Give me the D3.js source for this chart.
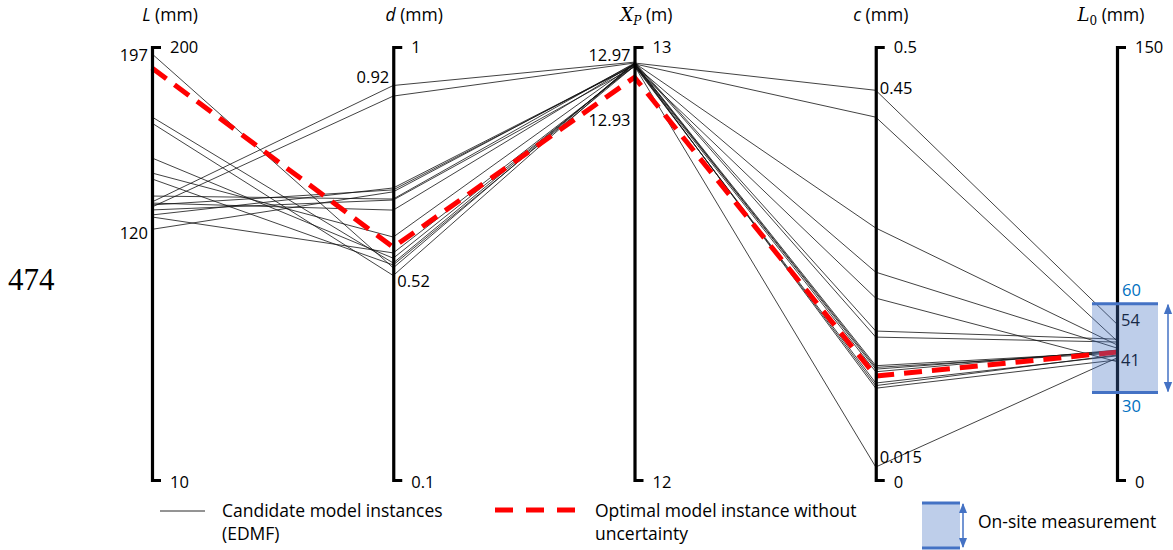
<!DOCTYPE html>
<html><head><meta charset="utf-8">
<script src="https://cdn.jsdelivr.net/npm/d3@7"></script>
<style>
body{margin:0;background:#fff}
text{font-family:"Open Sans","Noto Sans",sans-serif;fill:#000}
</style>
</head><body>
<svg id="chart" width="1173" height="550"></svg>
<script>
// ---------- DATA ----------
const dims = ["L", "d", "Xp", "c", "L0"];
const domainMin = [10, 0.1, 12, 0, 0];
const domainMax = [200, 1, 13, 0.5, 150];
const topTickLabels = ["200", "1", "13", "0.5", "150"];
const bottomTickLabels = ["10", "0.1", "12", "0", "0"];

// candidate model instances (EDMF)
const candL  = [197, 169.3, 166.6, 151.3, 144.7, 142.1, 134.6, 132, 131.5, 129.8, 126.3, 125.4, 120, 130.7, 128.5];
const candD  = [0.541, 0.551, 0.525, 0.561, 0.605, 0.547, 0.684, 0.92, 0.661, 0.898, 0.707, 0.572, 0.699, 0.703, 0.682];
const candXp = [12.963, 12.961, 12.963, 12.958, 12.961, 12.956, 12.963, 12.965, 12.961, 12.963, 12.958, 12.956, 12.961, 12.958, 12.954];
const candC  = [0.132, 0.419, 0.291, 0.125, 0.130, 0.112, 0.45, 0.172, 0.128, 0.165, 0.109, 0.015, 0.106, 0.240, 0.210];
const candL0 = [44.3, 48.2, 46.8, 45, 44, 43, 54, 48.8, 44.7, 47.8, 43.3, 42.3, 41.6, 45.7, 41];

// optimal model instance without uncertainty
const optimal = [190.8, 0.584, 12.93, 0.12, 44.3];

// on-site measurement range on L0
const measurement = [30, 60];

// min / max annotations
const annotAxis  = ["L", "L", "d", "d", "Xp", "Xp", "c", "c", "L0", "L0"];
const annotValue = [197, 120, 0.92, 0.52, 12.97, 12.93, 0.45, 0.015, 54, 41];
const annotText  = ["197", "120", "0.92", "0.52", "12.97", "12.93", "0.45", "0.015", "54", "41"];

// legend
const legendLabels = [["Candidate model instances", "(EDMF)"], ["Optimal model instance without", "uncertainty"], ["On-site measurement"]];

// ---------- LAYOUT ----------
const svg = d3.select("#chart");
const TOP = 47, BOTTOM = 480;
const FS = "16.5px";
const x = d3.scalePoint().domain(dims).range([152, 1117]);
const y = {};
dims.forEach((k, i) => {
  y[k] = d3.scaleLinear().domain([domainMin[i], domainMax[i]]).range([BOTTOM, TOP]);
});

const line = d3.line().x(d => x(d[0])).y(d => y[d[0]](d[1]));
const candidates = candL.map((_, i) => [candL[i], candD[i], candXp[i], candC[i], candL0[i]]);

// candidate lines
svg.append("g").selectAll("path").data(candidates).join("path")
  .attr("d", r => line(dims.map((k, j) => [k, r[j]])))
  .attr("fill", "none").attr("stroke", "#111").attr("stroke-width", 0.8);

// optimal line
svg.append("path")
  .attr("d", line(dims.map((k, j) => [k, optimal[j]])))
  .attr("fill", "none").attr("stroke", "#ff0000").attr("stroke-width", 5)
  .attr("stroke-dasharray", "18,10");

// axes
dims.forEach((k, i) => {
  const g = svg.append("g").attr("transform", `translate(${x(k)},0)`);
  const ax = d3.axisRight(y[k]).tickValues([domainMin[i], domainMax[i]])
    .tickSizeInner(0).tickSizeOuter(9).tickPadding(18)
    .tickFormat(v => v === domainMax[i] ? topTickLabels[i] : bottomTickLabels[i]);
  g.call(ax);
  g.select(".domain").attr("stroke", "#000").attr("stroke-width", 3.2).attr("stroke-linejoin", "miter");
  g.selectAll(".tick text").style("font-size", FS).attr("fill", "#000")
    .style("font-family", '"Open Sans","Noto Sans",sans-serif')
    .attr("dy", v => v === domainMax[i] ? "0.35em" : "0.47em");
});

// axis titles
const titleDx = [18, 21, 12, 5, -6];
const titles = svg.append("g");
dims.forEach((k, i) => {
  const t = titles.append("text").attr("x", x(k) + titleDx[i]).attr("y", 21)
    .attr("text-anchor", "middle").style("font-size", "17.5px");
  if (k === "L") { t.append("tspan").style("font-style", "italic").text("L"); t.append("tspan").text(" (mm)"); }
  if (k === "d") { t.append("tspan").style("font-style", "italic").text("d"); t.append("tspan").text(" (mm)"); }
  if (k === "c") { t.append("tspan").style("font-style", "italic").text("c"); t.append("tspan").text(" (mm)"); }
  if (k === "Xp") {
    t.append("tspan").style("font-style", "italic").style("font-family", '"DejaVu Serif",serif').style("font-size", "18px").text("X");
    t.append("tspan").style("font-style", "italic").style("font-family", '"DejaVu Serif",serif').style("font-size", "12px").attr("dy", 4).text("P");
    t.append("tspan").attr("dy", -4).text(" (m)");
  }
  if (k === "L0") {
    t.append("tspan").style("font-style", "italic").style("font-family", '"DejaVu Serif",serif').style("font-size", "18px").text("L");
    t.append("tspan").style("font-family", '"DejaVu Serif",serif').style("font-size", "12px").attr("dy", 4).text("0");
    t.append("tspan").attr("dy", -4).text(" (mm)");
  }
});

// annotations (side, vertical offset)
const annotSide = ["left", "left", "left", "right", "left", "left", "right", "right", "right", "right"];
const annotDy   = [1, 4, -8, 3, -5, 43, -2, -10, -4, -1];
svg.append("g").selectAll("text").data(annotText).join("text")
  .attr("x", (d, i) => x(annotAxis[i]) + (annotSide[i] === "left" ? -4 : 4))
  .attr("y", (d, i) => y[annotAxis[i]](annotValue[i]) + annotDy[i])
  .attr("dy", "0.35em")
  .attr("text-anchor", (d, i) => annotSide[i] === "left" ? "end" : "start")
  .style("font-size", FS).text(d => d);

// measurement box on L0
const blue = "#4472C4";
const mTop = y.L0(measurement[1]) - 3, mBot = y.L0(measurement[0]) - 1;
const bx0 = x("L0") - 25, bx1 = x("L0") + 41;
svg.append("rect").attr("x", bx0).attr("y", mTop).attr("width", bx1 - bx0).attr("height", mBot - mTop)
  .attr("fill", blue).attr("fill-opacity", 0.35);
[mTop, mBot].forEach(yy => svg.append("line").attr("x1", bx0).attr("x2", bx1).attr("y1", yy).attr("y2", yy)
  .attr("stroke", blue).attr("stroke-width", 3));
const defs = svg.append("defs");
defs.append("marker").attr("id", "ah").attr("viewBox", "0 0 10 10").attr("refX", 9).attr("refY", 5)
  .attr("markerWidth", 7).attr("markerHeight", 7).attr("orient", "auto-start-reverse")
  .append("path").attr("d", "M0,1 L10,5 L0,9 Z").attr("fill", blue);
svg.append("line").attr("x1", bx1 + 10).attr("x2", bx1 + 10).attr("y1", mTop + 1).attr("y2", mBot - 1)
  .attr("stroke", blue).attr("stroke-width", 1.5)
  .attr("marker-start", "url(#ah)").attr("marker-end", "url(#ah)");
svg.append("text").attr("x", x("L0") + 5).attr("y", mTop - 14).attr("dy", "0.35em")
  .style("font-size", FS).style("fill", "#0070C0").text(String(measurement[1]));
svg.append("text").attr("x", x("L0") + 5).attr("y", mBot + 14).attr("dy", "0.35em")
  .style("font-size", FS).style("fill", "#0070C0").text(String(measurement[0]));

// stray page number
svg.append("text").attr("x", 8).attr("y", 290).style("font-family", '"Liberation Serif","Times New Roman",serif')
  .style("font-size", "31px").text("474");

// legend
const LFS = "17.5px";
const lg = svg.append("g");
lg.append("line").attr("x1", 160).attr("x2", 205).attr("y1", 511).attr("y2", 511).attr("stroke", "#111").attr("stroke-width", 0.9);
lg.append("line").attr("x1", 495).attr("x2", 577).attr("y1", 510).attr("y2", 510).attr("stroke", "#ff0000")
  .attr("stroke-width", 5).attr("stroke-dasharray", "18,13");
const legX = [222, 595];
legendLabels.slice(0, 2).forEach((lines, i) => {
  lines.forEach((s, j) => lg.append("text").attr("x", legX[i]).attr("y", 511 + j * 23).attr("dy", "0.35em")
    .style("font-size", LFS).text(s));
});
lg.append("rect").attr("x", 922).attr("y", 503).attr("width", 38).attr("height", 45).attr("fill", blue).attr("fill-opacity", 0.35);
[503, 548].forEach(yy => lg.append("line").attr("x1", 922).attr("x2", 960).attr("y1", yy).attr("y2", yy).attr("stroke", blue).attr("stroke-width", 3));
lg.append("line").attr("x1", 963).attr("x2", 963).attr("y1", 504).attr("y2", 547)
  .attr("stroke", blue).attr("stroke-width", 1.5).attr("marker-start", "url(#ah)").attr("marker-end", "url(#ah)");
lg.append("text").attr("x", 978).attr("y", 522).attr("dy", "0.35em").style("font-size", LFS).text(legendLabels[2][0]);
</script>
</body></html>
